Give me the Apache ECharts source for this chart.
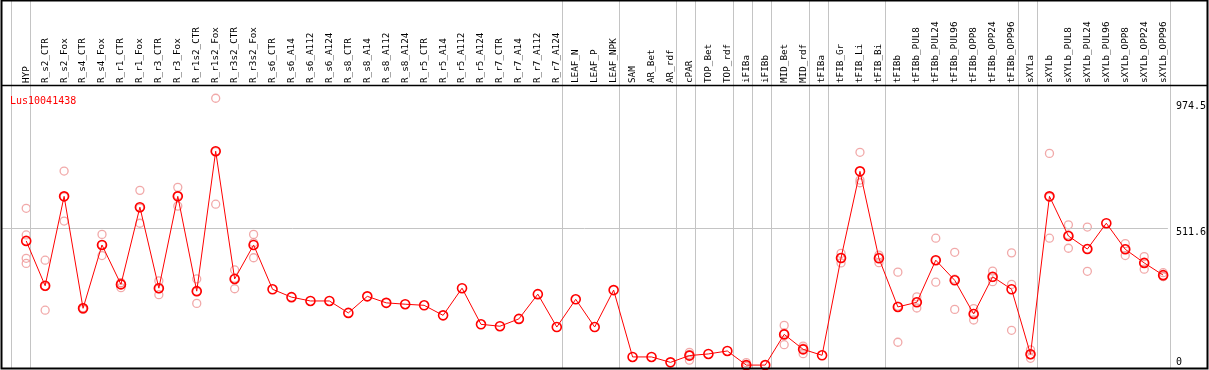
<!DOCTYPE html>
<html>
<head>
<meta charset="utf-8">
<script src="https://cdn.jsdelivr.net/npm/echarts@6/dist/echarts.min.js"></script>
<style>
  html, body { margin: 0; padding: 0; background: #fff; }
  #main { width: 1209px; height: 370px; }
</style>
</head>
<body>
<div id="main"></div>
<script>
// sample names (x axis)
var categories = ['HYP', 'R_s2_CTR', 'R_s2_Fox', 'R_s4_CTR', 'R_s4_Fox', 'R_r1_CTR', 'R_r1_Fox',
  'R_r3_CTR', 'R_r3_Fox', 'R_r1s2_CTR', 'R_r1s2_Fox', 'R_r3s2_CTR', 'R_r3s2_Fox',
  'R_s6_CTR', 'R_s6_A14', 'R_s6_A112', 'R_s6_A124', 'R_s8_CTR', 'R_s8_A14', 'R_s8_A112', 'R_s8_A124',
  'R_r5_CTR', 'R_r5_A14', 'R_r5_A112', 'R_r5_A124', 'R_r7_CTR', 'R_r7_A14', 'R_r7_A112', 'R_r7_A124',
  'LEAF_N', 'LEAF_P', 'LEAF_NPK', 'SAM', 'AR_Bet', 'AR_rdf', 'cPAR', 'TOP_Bet', 'TOP_rdf',
  'iFIBa', 'iFIBb', 'MID_Bet', 'MID_rdf', 'tFIBa', 'tFIB_Gr', 'tFIB_Li', 'tFIB_Bi',
  'tFIBb', 'tFIBb_PUL8', 'tFIBb_PUL24', 'tFIBb_PUL96', 'tFIBb_OPP8', 'tFIBb_OPP24', 'tFIBb_OPP96',
  'sXYLa', 'sXYLb', 'sXYLb_PUL8', 'sXYLb_PUL24', 'sXYLb_PUL96', 'sXYLb_OPP8', 'sXYLb_OPP24', 'sXYLb_OPP96'];

// mean expression (red line)
var meanValues = [464, 299, 628, 216, 449, 304, 588, 290, 628, 279, 794, 324, 449,
  286, 257, 243, 243, 199, 260, 236, 231, 227, 190, 290, 157, 150, 177, 268, 147,
  249, 147, 283, 37, 37, 17, 42, 48, 59, 7, 7, 120, 65, 43, 401, 720, 400,
  221, 238, 393, 319, 195, 332, 286, 47, 628, 482, 434, 529, 433, 383, 338];

// replicates (pink circles), null = not shown
var rep1 = [584, 393, 721, 218, 488, 310, 650, 317, 661, 324, 989, 357, 488,
  null, null, null, null, null, null, null, null, null, null, null, null, null, null, null, null,
  null, null, null, null, null, null, 54, null, null, 16, null, 153, 77, null, 418, 790, 412,
  349, 258, 474, 422, 215, 353, 420, 63, 786, 523, 515, null, 454, 406, 347];
var rep2 = [381, 209, 537, 212, 410, 292, 529, 266, 592, 234, 599, 288, 402,
  null, null, null, null, null, null, null, null, null, null, null, null, null, null, null, null,
  null, null, null, null, null, null, 25, null, null, 1, null, 82, 49, null, 383, 688, 384,
  91, 217, 312, 212, 173, 314, 135, 32, 474, 437, 352, null, 410, 360, 333];
var rep3 = [486, 296, 626, 216, 449, 310, 585, 288, 631, 277, 793, 327, 457,
  null, null, null, null, null, null, null, null, null, null, null, null, null, null, null, null,
  null, null, null, null, null, null, 46, null, null, 5, null, 125, 69, null, 402, 678, 404,
  224, 239, 392, 323, 197, 329, 304, 45, 625, 486, 435, null, 435, 383, 333];
var rep4 = [400];

var yTicks = [0, 511.6, 974.5];
// last sample index of each group, a grey separator follows it
var groupEnds = [-1, 0, 28, 31, 34, 35, 37, 38, 39, 41, 42, 45, 52, 53, 60];

var mono = 'DejaVu Sans Mono';
var xMin = -1.33, xMax = 60.25;

var repData = [];
[rep1, rep2, rep3, rep4].forEach(function (rep) {
  rep.forEach(function (v, i) {
    if (v !== null) repData.push([i, v]);
  });
});
var meanData = meanValues.map(function (v, i) { return [i, v]; });

var myChart = echarts.init(document.getElementById('main'));
myChart.setOption({
  animation: false,
  title: {
    text: 'Lus10041438',
    left: 5, top: 91,
    textStyle: { color: '#ff0000', fontFamily: mono, fontSize: 10, fontWeight: 'normal' }
  },
  grid: [
    { left: 1, right: 38, top: 86, bottom: 1 },
    { left: 1, right: 38, top: 0, bottom: 1 }
  ],
  xAxis: [
    {
      type: 'value', gridIndex: 0, position: 'top', min: xMin, max: xMax,
      axisLine: { show: false }, axisTick: { show: false }, splitLine: { show: false },
      axisLabel: {
        customValues: categories.map(function (c, i) { return i; }),
        formatter: function (v) { return categories[Math.round(v)]; },
        rotate: 90, margin: 3, color: '#000', fontFamily: mono, fontSize: 9.3
      }
    },
    {
      type: 'value', gridIndex: 1, min: xMin, max: xMax, show: false
    }
  ],
  yAxis: [
    {
      type: 'value', gridIndex: 0, position: 'right', min: -7.4, max: 1034,
      axisLine: { show: false }, axisTick: { show: false }, splitLine: { show: false },
      axisLabel: {
        customValues: yTicks,
        margin: 8, color: '#000', fontFamily: mono, fontSize: 10,
        formatter: function (v) { return v === 0 ? '{u|0}' : '{d|' + v + '}'; },
        rich: {
          u: { fontFamily: mono, fontSize: 10, color: '#000', padding: [0, 0, 10, 0] },
          d: { fontFamily: mono, fontSize: 10, color: '#000', padding: [8, 0, 0, 0] }
        }
      }
    },
    { type: 'value', gridIndex: 1, min: 0, max: 1, show: false }
  ],
  series: [
    {
      type: 'scatter', xAxisIndex: 1, yAxisIndex: 1, data: [], silent: true,
      markLine: {
        symbol: 'none', silent: true, label: { show: false },
        lineStyle: { color: '#c4c4c4', width: 1, type: 'solid' },
        data: groupEnds.map(function (g) { return { xAxis: g + 0.22 }; })
      }
    },
    {
      name: 'replicates', type: 'scatter', xAxisIndex: 0, yAxisIndex: 0,
      symbol: 'circle', symbolSize: 8,
      itemStyle: { color: 'rgba(0,0,0,0)', borderColor: '#ee9494', borderWidth: 1.3 },
      data: repData,
      markLine: {
        symbol: 'none', silent: true, label: { show: false },
        lineStyle: { color: '#c4c4c4', width: 1, type: 'solid' },
        data: [{ yAxis: yTicks[1] }]
      }
    },
    {
      name: 'mean', type: 'line', xAxisIndex: 0, yAxisIndex: 0,
      symbol: 'circle', symbolSize: 9, z: 5,
      lineStyle: { color: '#ff0000', width: 1 },
      itemStyle: { color: 'rgba(0,0,0,0)', borderColor: '#ff0000', borderWidth: 1.6 },
      data: meanData
    }
  ],
  graphic: [
    { type: 'rect', z: 100, shape: { x: 1.5, y: 0.5, width: 1206, height: 368 },
      style: { fill: 'none', stroke: '#000', lineWidth: 2 } },
    { type: 'line', z: 100, shape: { x1: 1, y1: 85.5, x2: 1208, y2: 85.5 },
      style: { stroke: '#000', lineWidth: 1.5 } }
  ]
});
</script>
</body>
</html>
